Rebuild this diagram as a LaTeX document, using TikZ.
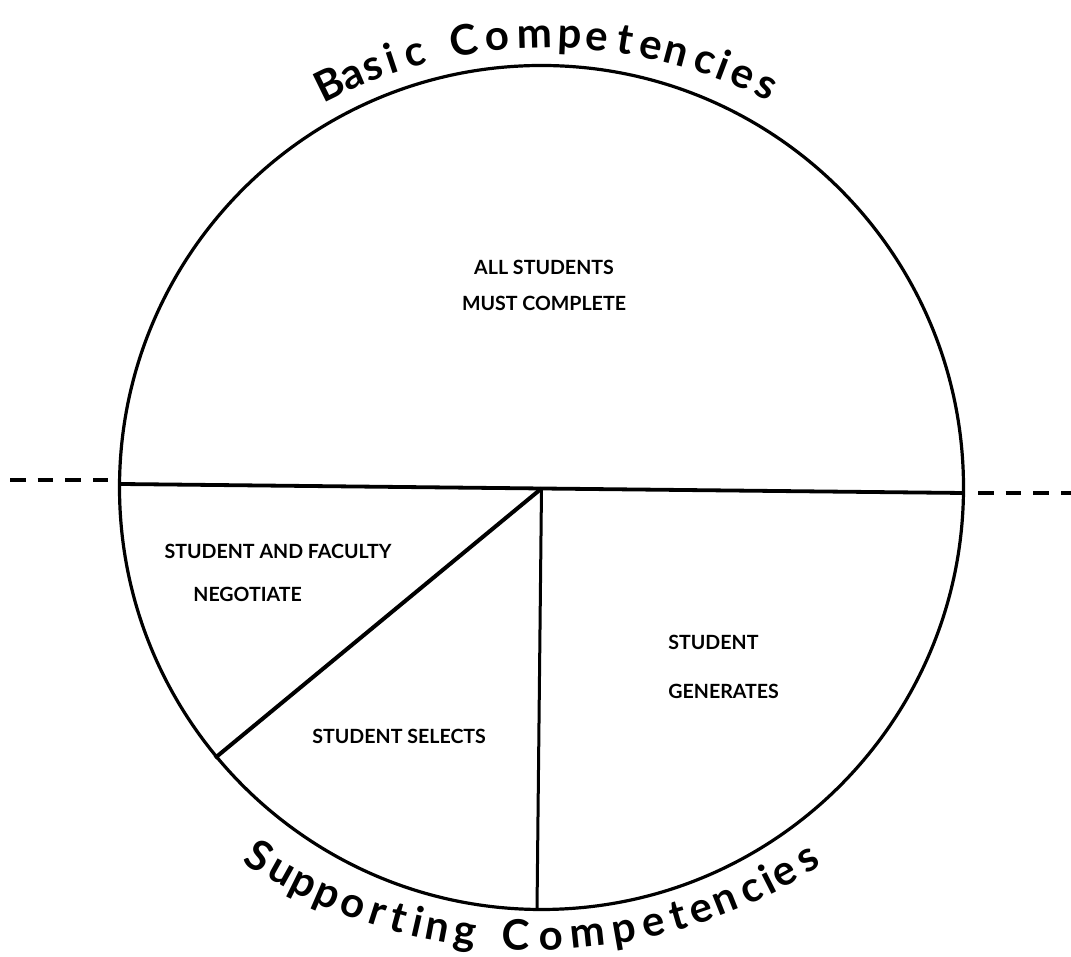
\documentclass[tikz,border=0pt]{standalone}
\usepackage{fontspec}
\setmainfont{Lato}
\begin{document}
\begin{tikzpicture}[x=0.5pt,y=0.5pt,
  ring/.style={line width=1.6pt},
  divider/.style={line width=1.9pt},
  spoke/.style={line width=1.5pt},
  diag/.style={line width=2pt},
  dashline/.style={line width=2.3pt, dash pattern=on 7.75pt off 6.1pt},
  lbl/.style={font=\bfseries\fontsize{9.8}{12}\selectfont, inner sep=0pt},
  curv/.style={font=\bfseries\fontsize{21}{24}\selectfont, inner sep=0pt}]
\useasboundingbox (0,0) rectangle (1071,957);
% geometry
\coordinate (Cc) at (541.5,469.5);
\coordinate (H1) at (120,473);
\coordinate (H2) at (963,464);
\coordinate (O) at (541.5,468.5);
\coordinate (V) at (537,47);
\coordinate (D) at (215,199);
\coordinate (L1) at (10,477);
\coordinate (L2) at (108,477);
\coordinate (R1) at (978,464);
\coordinate (R2) at (1071,464);
\coordinate (Ct) at (548,426);
\coordinate (Cb) at (534,537);
% shapes
\draw[ring] (Cc) circle[radius=422];
\draw[divider] (H1) -- (H2);
\draw[spoke] (O) -- (V);
\draw[diag] (O) -- (D);
\draw[dashline] (L1) -- (L2);
\draw[dashline] (R1) -- (R2);
% labels
\node[lbl] (all) at (544,689.5) {ALL STUDENTS};
\node[lbl] (must) at (544,653.5) {MUST COMPLETE};
\node[lbl] (saf) at (278,406) {STUDENT AND FACULTY};
\node[lbl, anchor=west] (neg) at (193,363) {NEGOTIATE};
\node[lbl, anchor=west] (stg) at (668,315) {STUDENT};
\node[lbl, anchor=west] (gen) at (668,266) {GENERATES};
\node[lbl, anchor=west] (sel) at (312,221) {STUDENT SELECTS};
% curved titles
\foreach \a/\c [count=\i] in {116.1/B,113.3/a,110.7/s,108.4/i,105.6/c,
  99.7/C,95.9/o,91.5/m,87.5/p,84.3/e,81.0/t,78.0/e,75.0/n,71.5/c,69.3/i,66.8/e,63.9/s}
  \node[curv, rotate=\a-90, anchor=base] (top\i) at ([shift={(\a:483)}]Ct) {\c};
\foreach \d/\c [count=\i] in {-32.2/S,-29.2/u,-26.4/p,-23.5/p,-20.4/o,-17.6/r,-15.2/t,-13.0/i,-10.8/n,-7.6/g,
  -2.0/C,1.9/o,6.0/m,10.0/p,13.4/e,16.2/t,18.8/e,21.7/n,24.8/c,26.9/i,28.9/e,31.9/s}
  \node[curv, rotate=\d, anchor=base] (bot\i) at ([shift={(270+\d:530)}]Cb) {\c};
\end{tikzpicture}
\end{document}
